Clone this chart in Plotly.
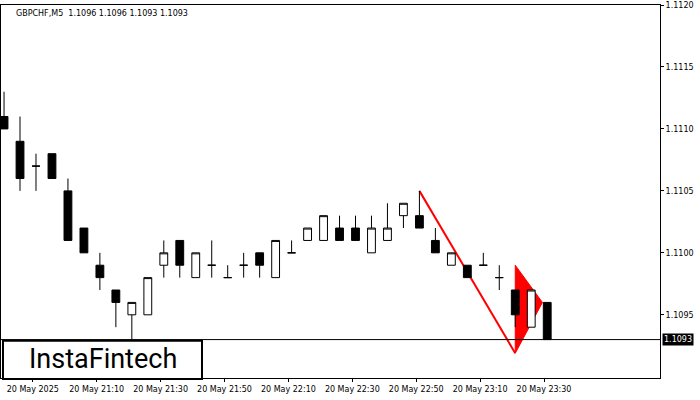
import plotly.graph_objects as go

# GBPCHF M5 candles, 20:50 .. 23:40
opens = [1.1111, 1.1109, 1.1107, 1.1108, 1.1105, 1.1102, 1.1099, 1.1097, 1.1095, 1.1095,
         1.1099, 1.1101, 1.1098, 1.1099, 1.1098, 1.1099, 1.1100, 1.1098, 1.1100, 1.1101,
         1.1101, 1.1102, 1.1102, 1.1100, 1.1101, 1.1103, 1.1103, 1.1101, 1.1099, 1.1099,
         1.1099, 1.1098, 1.1097, 1.1094, 1.1096]
highs = [1.1113, 1.1111, 1.1108, 1.1108, 1.1106, 1.1102, 1.1100, 1.1097, 1.1096, 1.1098,
         1.1101, 1.1101, 1.1100, 1.1101, 1.1099, 1.1100, 1.1100, 1.1101, 1.1101, 1.1102,
         1.1103, 1.1103, 1.1103, 1.1103, 1.1104, 1.1104, 1.1105, 1.1102, 1.1100, 1.1099,
         1.1100, 1.1099, 1.1097, 1.1097, 1.1096]
lows = [1.1110, 1.1105, 1.1105, 1.1106, 1.1101, 1.1100, 1.1097, 1.1094, 1.1093, 1.1095,
        1.1098, 1.1098, 1.1098, 1.1098, 1.1098, 1.1098, 1.1098, 1.1098, 1.1100, 1.1101,
        1.1101, 1.1101, 1.1101, 1.1100, 1.1101, 1.1102, 1.1102, 1.1100, 1.1099, 1.1098,
        1.1099, 1.1097, 1.1094, 1.1094, 1.1093]
closes = [1.1110, 1.1106, 1.1107, 1.1106, 1.1101, 1.1100, 1.1098, 1.1096, 1.1096, 1.1098,
          1.1100, 1.1099, 1.1100, 1.1099, 1.1098, 1.1099, 1.1099, 1.1101, 1.1100, 1.1102,
          1.1103, 1.1101, 1.1101, 1.1102, 1.1102, 1.1104, 1.1102, 1.1100, 1.1100, 1.1098,
          1.1099, 1.1098, 1.1095, 1.1097, 1.1093]

tick_pos = [0, 4, 8, 12, 16, 20, 24, 28, 32]
tick_text = ["20 May 2025", "20 May 21:10", "20 May 21:30", "20 May 21:50", "20 May 22:10",
             "20 May 22:30", "20 May 22:50", "20 May 23:10", "20 May 23:30"]
price_ticks = [1.1095, 1.1100, 1.1105, 1.1110, 1.1115, 1.1120]

pole_x = [26, 32]
pole_y = [1.1105, 1.10919]
flag_x = [32, 33.7, 32]
flag_y = [1.1099, 1.10960, 1.10919]
last_price = 1.1093

x = list(range(len(opens)))

fig = go.Figure()
fig.add_trace(go.Candlestick(
    x=x, open=opens, high=highs, low=lows, close=closes,
    increasing=dict(line=dict(color="black", width=1), fillcolor="white"),
    decreasing=dict(line=dict(color="black", width=1), fillcolor="black"),
    whiskerwidth=0, showlegend=False, hoverinfo="skip"))

flag_path = "M " + " L ".join(f"{a},{b}" for a, b in zip(flag_x, flag_y)) + " Z"

fig.update_layout(
    width=700, height=400,
    margin=dict(l=1, r=40, t=5, b=22),
    paper_bgcolor="white", plot_bgcolor="white",
    font=dict(family="DejaVu Sans", size=8, color="black"),
    xaxis=dict(range=[-0.19, 41.06], rangeslider=dict(visible=False),
               tickvals=[p + 1.8 for p in tick_pos], ticktext=tick_text,
               tickangle=0, automargin=False,
               showgrid=False, zeroline=False, showline=True, linecolor="black",
               mirror=True, ticks="outside", ticklen=3, tickcolor="black"),
    yaxis=dict(range=[1.10899, 1.1120], side="right", tickvals=price_ticks,
               tickformat=".4f", automargin=False,
               showgrid=False, zeroline=False, showline=True,
               linecolor="black", mirror=True, ticks="outside", ticklen=3,
               tickcolor="black"),
    annotations=[
        dict(xref="paper", yref="paper", x=0.02, y=0.995, xanchor="left", yanchor="top",
             text="GBPCHF,M5  1.1096 1.1096 1.1093 1.1093", showarrow=False,
             font=dict(size=8)),
        dict(xref="paper", yref="y", x=1.003, y=last_price, xanchor="left",
             text="1.1093", showarrow=False, bgcolor="black",
             font=dict(color="white", size=8)),
        dict(xref="paper", yref="paper", x=0.155, y=0.05, xanchor="center",
             yanchor="middle", text="InstaFintech", showarrow=False,
             font=dict(family="Roboto", size=27, color="black")),
    ],
    shapes=[
        dict(type="path", xref="x", yref="y", path=flag_path, layer="below",
             fillcolor="red", line=dict(color="red", width=1)),
        dict(type="line", xref="x", yref="y", x0=pole_x[0], y0=pole_y[0],
             x1=pole_x[1], y1=pole_y[1], layer="below",
             line=dict(color="red", width=2)),
        dict(type="line", xref="paper", yref="y", x0=0, x1=1, y0=last_price,
             y1=last_price, line=dict(color="black", width=1)),
        dict(type="rect", xref="paper", yref="paper", x0=0.003, x1=0.305,
             y0=-0.003, y1=0.1, line=dict(color="black", width=2),
             fillcolor="white"),
    ],
)

fig.write_html("out.html", config={"displayModeBar": False})
with open("out.html") as f:
    html = f.read()
html = html.replace("<body>", '<body style="margin:0">', 1)
with open("out.html", "w") as f:
    f.write(html)
